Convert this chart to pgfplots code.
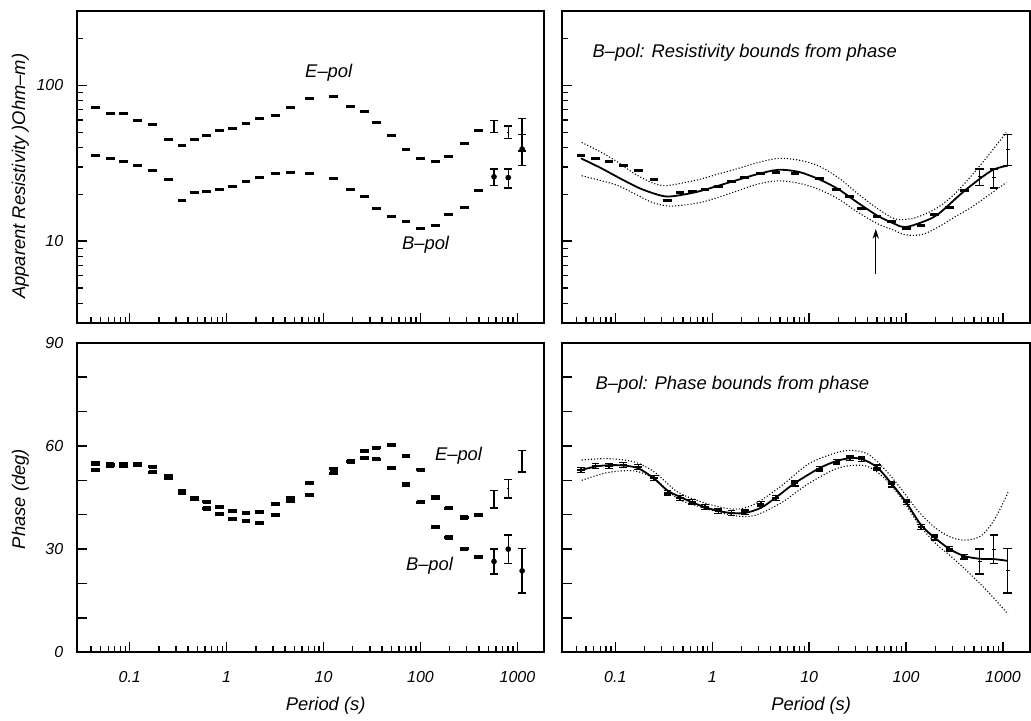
\documentclass[border=0pt]{standalone}
\usepackage{fontspec}
\setmainfont{Liberation Sans}
\usepackage{pgfplots}
\usepackage{pgfplotstable}
\pgfplotsset{compat=1.18}
\usetikzlibrary{arrows.meta}

\pgfplotstableread{
T r
0.0443 72.6
0.0627 66.2
0.0861 66.2
0.1208 59.4
0.1726 55.7
0.2512 45.2
0.3459 41.3
0.4645 45.0
0.6223 47.4
0.8414 51.0
1.153 52.9
1.581 57.2
2.173 60.9
3.177 64.5
4.539 71.9
7.129 82.2
12.74 85.4
19.10 73.7
26.30 68.0
34.83 57.7
50.12 47.4
70.79 39.0
100.7 33.7
142.9 32.7
195.9 35.0
281.8 42.1
398.1 51.5
}\Erho
\pgfplotstableread{
T r ep em
572.8 54.5 5.2 4.7
803.5 50.2 4.7 4.4
1117 48.1 13.1 10.3
}\Erhobig
\pgfplotstableread{
T r
0.0443 35.3
0.0627 34.0
0.0861 32.5
0.1208 30.6
0.1726 28.6
0.2512 24.8
0.3459 18.2
0.4645 20.4
0.6223 20.9
0.8414 21.4
1.153 22.3
1.581 24.0
2.173 25.5
3.177 27.1
4.539 27.5
7.129 27.1
12.74 25.1
19.10 21.6
26.30 19.4
34.83 16.1
50.12 14.5
70.79 13.4
100.7 12.0
142.9 12.6
195.9 14.9
281.8 16.4
398.1 21.3
}\Brho
\pgfplotstableread{
T r ep em
572.8 25.9 3.1 3.2
803.5 25.6 3.4 3.7
1117 39.0 9.5 8.5
}\Brhobig
\pgfplotstableread{
T p
0.0443 54.9
0.0627 54.6
0.0861 54.6
0.1208 54.8
0.1726 52.3
0.2512 51.2
0.3459 47.0
0.4645 44.6
0.6223 41.8
0.8414 40.2
1.153 38.7
1.581 38.2
2.173 37.5
3.177 39.9
4.539 44.0
7.129 45.7
12.74 52.1
19.10 55.6
26.30 58.5
34.83 59.5
50.12 60.2
70.79 57.1
100.7 53.0
142.9 45.0
195.9 41.9
281.8 39.2
398.1 39.9
}\Eph
\pgfplotstableread{
T p e
572.8 44.5 2.6
803.5 47.6 2.7
1117 55.5 3.1
}\Ephbig
\pgfplotstableread{
T p
0.0443 53.0
0.0627 54.2
0.0861 54.2
0.1208 54.4
0.1726 53.9
0.2512 50.7
0.3459 46.4
0.4645 44.8
0.6223 43.8
0.8414 42.2
1.153 41.0
1.581 40.5
2.173 40.7
3.177 43.2
4.539 44.9
7.129 49.1
12.74 53.4
19.10 55.4
26.30 56.4
34.83 56.1
50.12 53.7
70.79 48.8
100.7 43.6
142.9 36.4
195.9 33.4
281.8 30.1
398.1 27.8
}\Bph
\pgfplotstableread{
T p e
572.8 26.4 3.6
803.5 30.0 4.1
1117 23.7 6.5
}\Bphbig
% model responses and bounds (right panels)
\pgfplotstableread{
T r
0.0443 34.0
0.0723 29.3
0.1161 25.0
0.1866 21.6
0.3251 19.4
0.50 19.9
0.7762 21.1
1.854 24.8
2.978 27.0
4.786 28.7
7.701 27.9
12.39 25.1
19.91 21.6
31.99 17.6
51.40 14.5
76.5 12.9
97.0 12.3
143.9 13.2
213.8 14.9
402.7 21.1
756.8 28.3
1117 30.5
}\Brhofit
\pgfplotstableread{
T r
0.0450 43.0
0.0723 37.1
0.1074 32.0
0.1596 27.0
0.2366 23.8
0.3251 22.7
0.5236 23.8
0.7762 25.1
1.153 27.0
1.854 29.3
2.978 32.0
4.786 34.0
7.701 33.2
12.39 30.5
19.91 25.6
31.99 20.1
51.40 16.1
76.5 13.9
110 13.9
143.9 14.6
213.8 16.5
317.7 20.1
472.1 26.3
699.8 35.3
1081 49.8
}\Brhoup
\pgfplotstableread{
T r
0.0450 26.3
0.0723 24.4
0.1074 22.7
0.1596 20.1
0.2366 17.8
0.3516 16.8
0.5236 17.1
0.7762 17.8
1.153 19.1
1.854 21.1
2.978 23.3
4.786 24.4
7.701 23.6
12.39 21.6
19.91 18.7
31.99 15.3
51.40 12.9
76.5 11.7
97.0 11.0
143.9 11.0
213.8 12.3
317.7 14.3
472.1 16.5
699.8 19.6
1081 23.8
}\Brholo
\pgfplotstableread{
T p
0.0443 53.0
0.0627 54.0
0.0861 54.4
0.1208 54.3
0.1726 53.5
0.2512 50.5
0.3459 47.0
0.4645 45.2
0.6223 43.6
0.8414 42.2
1.153 41.1
1.581 40.5
2.173 40.5
3.177 42.0
4.539 45.0
7.129 49.2
12.74 53.5
19.10 55.6
26.30 56.4
34.83 56.2
50.12 53.8
70.79 49.0
100.7 43.5
142.9 37.0
195.9 33.4
281.8 30.0
398.1 28.0
572.8 27.2
803.5 27.1
1117 26.6
}\Bphfit
\pgfplotstableread{
T up lo
0.0450 55.9 50.0
0.0847 56.3 52.3
0.1596 55.3 52.7
0.2564 52.3 50.3
0.4457 46.5 44.6
0.9099 43.1 41.6
1.714 41.6 39.7
2.754 43.1 39.8
5.176 48.4 43.5
9.772 54.7 49.0
18.41 57.9 53.2
27.29 58.7 54.3
40.55 57.6 54.0
60.26 53.2 50.5
89.54 47.4 44.8
133.0 41.1 37.5
197.7 36.3 31.9
293.1 33.4 27.8
418.8 32.6 23.8
597.0 33.9 19.6
820.4 38.7 15.5
1127 46.5 11.1
}\Bphbnd

\tikzset{ann/.style={font=\fontsize{9.2}{11}\selectfont\itshape, inner sep=0pt}}

\begin{document}
\begin{tikzpicture}

\begin{axis}[
  at={(0pt,0pt)}, anchor=north west,
  scale only axis, width=234pt, height=156pt,
  xmode=log, xmin=0.0285, xmax=1900,
  ymode=log, ymin=3, ymax=300,
  xtick={0.1,1,10,100,1000}, xticklabels={},
  minor xtick={0.04,0.05,0.06,0.07,0.08,0.09,0.2,0.3,0.4,0.5,0.6,0.7,0.8,0.9,2,3,4,5,6,7,8,9,20,30,40,50,60,70,80,90,200,300,400,500,600,700,800,900},
  ytick={10,100}, yticklabels={10,100},
  minor ytick={4,5,6,7,8,9,20,30,40,50,60,70,80,90,200},
  xtick pos=bottom, ytick pos=left, tick align=inside,
  major tick length=5pt, minor tick length=3pt,
  tick style={black, line width=0.7pt},
  axis line style={line width=1pt},
  yticklabel style={font=\fontsize{8}{9}\selectfont\itshape, anchor=east, xshift=-3.3pt},
  ylabel={Apparent Resistivity )Ohm--m)},
  ylabel style={font=\fontsize{9.2}{11}\selectfont\itshape, at={(axis description cs:-0.1207,0.47)}, anchor=center},
]
\addplot[only marks, mark=-, mark size=2.2pt, mark options={line width=1.5pt}] table[x=T,y=r] {\Erho};
\addplot[only marks, mark=-, mark size=2.2pt, mark options={line width=1.5pt}] table[x=T,y=r] {\Brho};
\addplot[only marks, mark=-, mark size=0.5pt,
  error bars/.cd, y dir=both, y explicit,
  error bar style={line width=0.7pt},
  error mark options={rotate=90, mark size=2.1pt, line width=0.7pt}]
  table[x=T,y=r,y error plus=ep,y error minus=em] {\Erhobig};
\addplot[only marks, mark=*, mark size=1.2pt,
  error bars/.cd, y dir=both, y explicit,
  error bar style={line width=0.7pt},
  error mark options={rotate=90, mark size=2.1pt, line width=0.7pt}]
  table[x=T,y=r,y error plus=ep,y error minus=em] {\Brhobig};
\node[ann] at (axis cs:11.3,121) {E--pol};
\node[ann] at (axis cs:112.7,9.47) {B--pol};
\end{axis}

\begin{axis}[
  at={(243pt,0pt)}, anchor=north west,
  scale only axis, width=234pt, height=156pt,
  xmode=log, xmin=0.0285, xmax=1900,
  ymode=log, ymin=3, ymax=300,
  xtick={0.1,1,10,100,1000}, xticklabels={},
  minor xtick={0.04,0.05,0.06,0.07,0.08,0.09,0.2,0.3,0.4,0.5,0.6,0.7,0.8,0.9,2,3,4,5,6,7,8,9,20,30,40,50,60,70,80,90,200,300,400,500,600,700,800,900},
  ytick={10,100}, yticklabels={},
  minor ytick={4,5,6,7,8,9,20,30,40,50,60,70,80,90,200},
  xtick pos=bottom, ytick pos=left, tick align=inside,
  major tick length=5pt, minor tick length=3pt,
  tick style={black, line width=0.7pt},
  axis line style={line width=1pt},
]
\addplot[densely dotted, line width=0.55pt, smooth] table[x=T,y=r] {\Brhoup};
\addplot[densely dotted, line width=0.55pt, smooth] table[x=T,y=r] {\Brholo};
\addplot[line width=0.9pt, smooth] table[x=T,y=r] {\Brhofit};
\addplot[only marks, mark=-, mark size=2.2pt, mark options={line width=1.5pt}] table[x=T,y=r] {\Brho};
\addplot[only marks, mark=-, mark size=1pt,
  error bars/.cd, y dir=both, y explicit,
  error bar style={line width=0.7pt},
  error mark options={rotate=90, mark size=2.1pt, line width=0.7pt}]
  table[x=T,y=r,y error plus=ep,y error minus=em] {\Brhobig};
\draw[-{Stealth[length=5pt,width=3.2pt]}, line width=0.7pt] (axis cs:48.7,6.2) -- (axis cs:48.7,12.0);
\node[ann, anchor=west] at (axis cs:0.0579,162.6) {B--pol: Resistivity bounds from phase};
\end{axis}

\begin{axis}[
  at={(0pt,-166pt)}, anchor=north west,
  scale only axis, width=234pt, height=155pt,
  xmode=log, xmin=0.0285, xmax=1900,
  ymin=0, ymax=90,
  xtick={0.1,1,10,100,1000}, xticklabels={0.1,1,10,100,1000},
  minor xtick={0.04,0.05,0.06,0.07,0.08,0.09,0.2,0.3,0.4,0.5,0.6,0.7,0.8,0.9,2,3,4,5,6,7,8,9,20,30,40,50,60,70,80,90,200,300,400,500,600,700,800,900},
  ytick={0,10,...,90}, yticklabels={0,,,30,,,60,,,90},
  xtick pos=bottom, ytick pos=left, tick align=inside,
  major tick length=5pt, minor tick length=3pt,
  tick style={black, line width=0.7pt},
  axis line style={line width=1pt},
  xticklabel style={font=\fontsize{8}{9}\selectfont\itshape, anchor=center, yshift=-12.25pt},
  yticklabel style={font=\fontsize{8}{9}\selectfont\itshape, anchor=east, xshift=-3.3pt},
  xlabel={Period (s)},
  xlabel style={font=\fontsize{9.2}{11}\selectfont\itshape, at={(axis description cs:0.532,0)}, anchor=center, yshift=-26.5pt},
  ylabel={Phase (deg)},
  ylabel style={font=\fontsize{9.2}{11}\selectfont\itshape, at={(axis description cs:-0.1207,0.495)}, anchor=center},
]
\addplot[only marks, mark=-, mark size=2.2pt, mark options={line width=1.5pt},
  error bars/.cd, y dir=both, y fixed=0.4,
  error bar style={line width=0.7pt},
  error mark options={rotate=90, mark size=2.1pt, line width=0.7pt}]
  table[x=T,y=p] {\Eph};
\addplot[only marks, mark=-, mark size=2.2pt, mark options={line width=1.5pt},
  error bars/.cd, y dir=both, y fixed=0.4,
  error bar style={line width=0.7pt},
  error mark options={rotate=90, mark size=2.1pt, line width=0.7pt}]
  table[x=T,y=p] {\Bph};
\addplot[only marks, mark=-, mark size=0.5pt,
  error bars/.cd, y dir=both, y explicit,
  error bar style={line width=0.7pt},
  error mark options={rotate=90, mark size=2.1pt, line width=0.7pt}]
  table[x=T,y=p,y error=e] {\Ephbig};
\addplot[only marks, mark=*, mark size=1.2pt,
  error bars/.cd, y dir=both, y explicit,
  error bar style={line width=0.7pt},
  error mark options={rotate=90, mark size=2.1pt, line width=0.7pt}]
  table[x=T,y=p,y error=e] {\Bphbig};
\node[ann] at (axis cs:246.6,57.0) {E--pol};
\node[ann] at (axis cs:123.8,25.3) {B--pol};
\end{axis}

\begin{axis}[
  at={(243pt,-166pt)}, anchor=north west,
  scale only axis, width=234pt, height=155pt,
  xmode=log, xmin=0.0285, xmax=1900,
  ymin=0, ymax=90,
  xtick={0.1,1,10,100,1000}, xticklabels={0.1,1,10,100,1000},
  minor xtick={0.04,0.05,0.06,0.07,0.08,0.09,0.2,0.3,0.4,0.5,0.6,0.7,0.8,0.9,2,3,4,5,6,7,8,9,20,30,40,50,60,70,80,90,200,300,400,500,600,700,800,900},
  ytick={0,10,...,90}, yticklabels={},
  xtick pos=bottom, ytick pos=left, tick align=inside,
  major tick length=5pt, minor tick length=3pt,
  tick style={black, line width=0.7pt},
  axis line style={line width=1pt},
  xticklabel style={font=\fontsize{8}{9}\selectfont\itshape, anchor=center, yshift=-12.25pt},
  xlabel={Period (s)},
  xlabel style={font=\fontsize{9.2}{11}\selectfont\itshape, at={(axis description cs:0.532,0)}, anchor=center, yshift=-26.5pt},
]
\addplot[densely dotted, line width=0.55pt, smooth] table[x=T,y=up] {\Bphbnd};
\addplot[densely dotted, line width=0.55pt, smooth] table[x=T,y=lo] {\Bphbnd};
\addplot[line width=0.9pt, smooth] table[x=T,y=p] {\Bphfit};
\addplot[only marks, mark=-, mark size=1.8pt, mark options={line width=1pt},
  error bars/.cd, y dir=both, y fixed=0.7,
  error bar style={line width=0.7pt},
  error mark options={rotate=90, mark size=1.9pt, line width=0.7pt}]
  table[x=T,y=p] {\Bph};
\addplot[only marks, mark=-, mark size=1pt,
  error bars/.cd, y dir=both, y explicit,
  error bar style={line width=0.7pt},
  error mark options={rotate=90, mark size=2.1pt, line width=0.7pt}]
  table[x=T,y=p,y error=e] {\Bphbig};
\node[ann, anchor=west] at (axis cs:0.0622,77.9) {B--pol: Phase bounds from phase};
\end{axis}

\path (-38.5pt,5.5pt) rectangle (477pt,-354.5pt);
\end{tikzpicture}
\end{document}
